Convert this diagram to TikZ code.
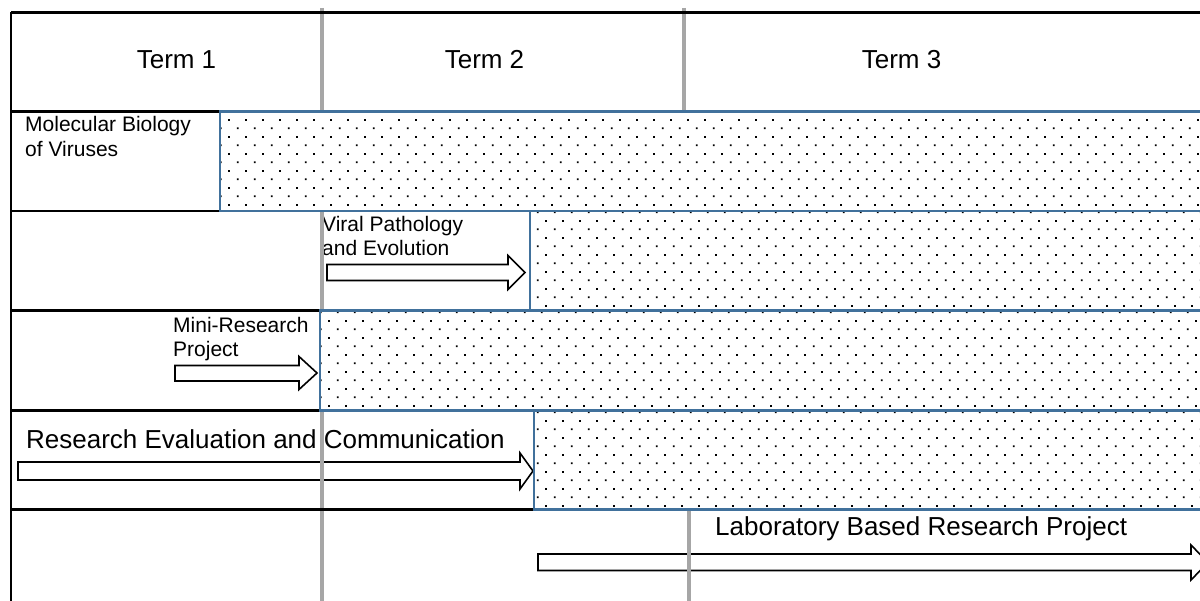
\documentclass[tikz,border=0pt]{standalone}
\usepackage{fontspec}
\setmainfont{Liberation Sans}
\usetikzlibrary{patterns.meta}
\definecolor{boxblue}{HTML}{41719C}
\definecolor{termgray}{HTML}{A6A6A6}
\tikzdeclarepattern{
  name=sparsedots,
  type=uncolored,
  bottom left={(0pt,0pt)},
  top right={(16.7pt,16.7pt)},
  tile size={(16.7pt,16.7pt)},
  code={
    \pgfpathrectangle{\pgfpoint{3pt}{3pt}}{\pgfpoint{1.7pt}{1.7pt}}
    \pgfpathrectangle{\pgfpoint{11.35pt}{11.35pt}}{\pgfpoint{1.7pt}{1.7pt}}
    \pgfusepath{fill}
  }
}
\tikzset{
  bigtext/.style={inner sep=0pt, font=\fontsize{26}{31}\selectfont},
  smalltext/.style={inner sep=0pt, anchor=base west, font=\fontsize{21}{24.5}\selectfont},
  gridline/.style={draw=black, line width=2.2pt},
  termline/.style={draw=termgray, line width=4pt},
  dotbox/.style={draw=boxblue, line width=2.2pt, preaction={fill=white}, pattern=sparsedots, pattern color=black},
  blockarrow/.style={draw=black, fill=white, line width=1.6pt, line join=miter},
}
\begin{document}
\begin{tikzpicture}[x=1pt,y=-1pt]
\clip (0,0) rectangle (1200,601);
\fill[white] (0,0) rectangle (1200,601);

% block arrows
\draw[blockarrow] (327,264.5) -- (508,264.5) -- (508,255.5) -- (525,272.5) -- (508,289.5) -- (508,280.5) -- (327,280.5) -- cycle;
\draw[blockarrow] (175,365.5) -- (299,365.5) -- (299,356.5) -- (317,373) -- (299,389.5) -- (299,381) -- (175,381) -- cycle;
\draw[blockarrow] (18,462) -- (520,462) -- (520,453) -- (533,471) -- (520,489) -- (520,480) -- (18,480) -- cycle;
\draw[blockarrow] (538,554) -- (1191,554) -- (1191,545) -- (1208,562.5) -- (1191,580) -- (1191,570.5) -- (538,570.5) -- cycle;

% texts
\node[bigtext, anchor=base] (t1) at (176.5,69) {Term 1};
\node[bigtext, anchor=base] (t2) at (484.5,69) {Term 2};
\node[bigtext, anchor=base] (t3) at (901.5,69) {Term 3};
\node[smalltext] (mb1) at (25,132) {Molecular Biology};
\node[smalltext] (mb2) at (25,157) {of Viruses};
\node[smalltext] (vp1) at (322,232) {Viral Pathology};
\node[smalltext] (vp2) at (322,256) {and Evolution};
\node[smalltext] (mr1) at (173,333) {Mini-Research};
\node[smalltext] (mr2) at (173,357) {Project};
\node[bigtext, anchor=base west] (rec) at (26,449) {Research Evaluation and Communication};
\node[bigtext, anchor=base west] (lab) at (715,535) {Laboratory Based Research Project};

% term dividers
\draw[termline] (322,8) -- (322,601);
\draw[termline] (683.5,8) -- (683.5,111);
\draw[termline] (689,509) -- (689,601);

% grid lines
\draw[gridline] (11,12.5) -- (1210,12.5);
\draw[gridline] (11,12.5) -- (11,610);
\draw[gridline] (11,111.5) -- (220,111.5);
\draw[gridline] (11,211) -- (220,211);
\draw[gridline] (11,310.5) -- (320,310.5);
\draw[gridline] (11,410.5) -- (320,410.5);
\draw[gridline] (11,509.5) -- (534,509.5);

% dotted module boxes
\draw[dotbox] (220,111.5) rectangle (1215,211);
\draw[dotbox] (530,211) rectangle (1215,310.5);
\draw[dotbox] (320,310.5) rectangle (1215,410.5);
\draw[dotbox] (534,410.5) rectangle (1215,509.5);
\end{tikzpicture}
\end{document}
